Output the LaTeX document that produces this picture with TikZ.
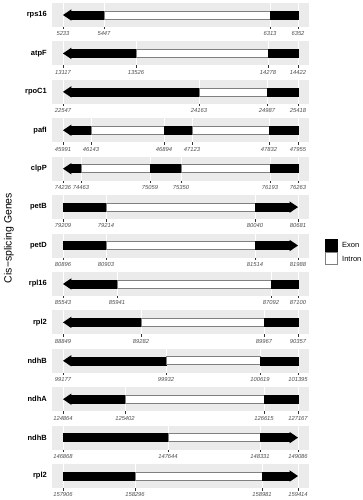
\documentclass[tikz,border=0pt]{standalone}
\usepackage{fontspec}
\setmainfont{Liberation Sans}
\usetikzlibrary{positioning}
\definecolor{grey92}{gray}{0.92}
\definecolor{grey30}{gray}{0.30}
\definecolor{grey20}{gray}{0.20}
\definecolor{grey50}{gray}{0.50}
\tikzset{
  panel/.style      = {fill=grey92, draw=none},
  exon/.style       = {fill=black, draw=black, line width=0.4pt},
  intron/.style     = {fill=white, draw=grey50, line width=0.6pt},
  grid line/.style  = {draw=white, line width=0.7pt},
  tick mark/.style  = {draw=grey20, line width=0.5pt},
  tick label/.style = {font=\fontsize{5.8}{6}\selectfont\itshape, text=grey30,
                       inner sep=0pt},
  gene label/.style = {font=\fontsize{7.5}{9}\selectfont\bfseries, anchor=east,
                       inner sep=0pt},
  key label/.style  = {font=\fontsize{7.5}{9}\selectfont, anchor=west,
                       inner sep=0pt}
}

\begin{document}
\begin{tikzpicture}[x=1pt, y=-1pt]
\useasboundingbox (0,0) rectangle (363,500);

% one facet per gene: name / direction / tick positions and labels
\foreach \name/\dir/\ticks [count=\g from 0] in {
  rps16/L/{63/5233,104/5447,270/6313,298/6352},
  atpF/L/{63/13117,136/13526,268/14278,298/14422},
  rpoC1/L/{63/22547,199/24163,267/24987,298/25418},
  pafI/L/{63/45991,91/46143,164/46894,192/47123,269/47832,298/47955},
  clpP/L/{63/74236,81/74463,150/75059,181/75350,270/76193,298/76263},
  petB/R/{63/79209,106/79214,255/80040,298/80681},
  petD/R/{63/80896,106/80903,255/81514,298/81988},
  rpl16/L/{63/85543,117/85941,271/87092,298/87100},
  rpl2/L/{63/88849,141/89282,264/89967,298/90357},
  ndhB/L/{63/99177,166/99932,260/100619,298/101395},
  ndhA/L/{63/124864,125/125402,264/126615,298/127167},
  ndhB/R/{63/146868,168/147644,260/148331,298/149086},
  rpl2/R/{63/157906,135/158296,262/158981,298/159414}} {
  \pgfmathsetmacro{\ptop}{3+38.42*\g}
  % grey panel and gene name
  \fill[panel] (52,\ptop) rectangle (309,\ptop+24);
  \node[gene label] (gene\g) at (47,\ptop+12) {\name};
  % grid lines, ticks, labels and the exon / intron pieces
  \foreach \x/\lab [count=\k, remember=\x as \lastx (initially 63)] in \ticks {
    \draw[grid line] (\x,\ptop) -- (\x,\ptop+24);
    \draw[tick mark] (\x,\ptop+24) -- (\x,\ptop+26.5);
    \node[tick label] (tick\g-\k) at (\x,\ptop+30.8) {\lab};
    \ifnum\k>1
      \edef\xa{\lastx}\edef\xb{\x}
      \if\dir L\ifnum\lastx=63 \def\xa{71}\fi\fi
      \if\dir R\ifnum\x=298 \def\xb{290}\fi\fi
      \ifodd\k \def\piece{intron}\else\def\piece{exon}\fi
      \draw[\piece] (\xa,\ptop+8) rectangle (\xb,\ptop+16);
    \fi
  }
  % arrow head
  \if\dir L
    \fill[black] (63,\ptop+12) -- (71.4,\ptop+6.3) -- (71.4,\ptop+17.7) -- cycle;
  \else
    \fill[black] (298,\ptop+12) -- (289.6,\ptop+6.3) -- (289.6,\ptop+17.7) -- cycle;
  \fi
}

% axis title
\node[rotate=90, font=\fontsize{10.5}{12}\selectfont] (axis title) at (9,238)
  {Cis−splicing Genes};

% legend
\draw[exon] (325,239) rectangle (337,251);
\draw[intron] (325,252.5) rectangle (337,264.5);
\node[key label] (exon key) at (342,245) {Exon};
\node[key label] (intron key) at (342,258.5) {Intron};
\end{tikzpicture}
\end{document}
